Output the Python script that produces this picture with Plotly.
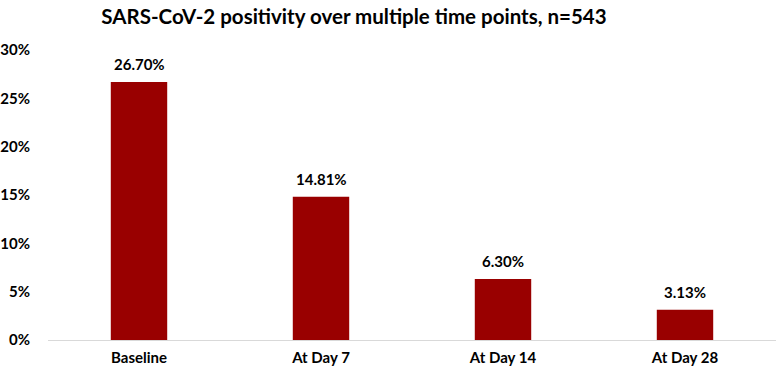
import plotly.graph_objects as go

categories = ["Baseline", "At Day 7", "At Day 14", "At Day 28"]
values = [26.70, 14.81, 6.30, 3.13]
labels = ["26.70%", "14.81%", "6.30%", "3.13%"]
tick_vals = [0, 5, 10, 15, 20, 25, 30]
tick_text = ["0%", "5%", "10%", "15%", "20%", "25%", "30%"]

font_family = "Lato, Carlito, Calibri, sans-serif"

fig = go.Figure(go.Bar(
    x=categories, y=values,
    marker=dict(color="#990000", line=dict(width=0)),
    width=0.31,
))

for c, v, t in zip(categories, values, labels):
    fig.add_annotation(x=c, y=v, text=t, showarrow=False, yanchor="bottom",
                       yshift=7,
                       font=dict(family=font_family, size=15, color="#000000", weight="bold"))

fig.update_layout(
    width=776, height=370,
    margin=dict(l=44, r=0, t=50, b=30),
    paper_bgcolor="white", plot_bgcolor="white",
    font=dict(family=font_family, color="#000000"),
    title=dict(text="SARS-CoV-2 positivity over multiple time points, n=543",
               x=354/776, xanchor="center", y=1-17/370, yanchor="middle",
               font=dict(size=20.5, family=font_family, color="#000000", weight="bold")),
    showlegend=False,
    bargap=0.69,
)
fig.update_yaxes(range=[0, 30], tickvals=tick_vals, ticktext=tick_text,
                 showgrid=False, zeroline=False, showline=False,
                 ticks="outside", ticklen=14, tickcolor="rgba(0,0,0,0)",
                 tickfont=dict(size=15, family=font_family, color="#000000", weight="bold"))
fig.update_xaxes(showline=True, linecolor="#d9d9d9", linewidth=1,
                 ticks="outside", ticklen=4, tickcolor="rgba(0,0,0,0)",
                 tickfont=dict(size=15, family=font_family, color="#000000", weight="bold"))

fig.write_html("out.html")
